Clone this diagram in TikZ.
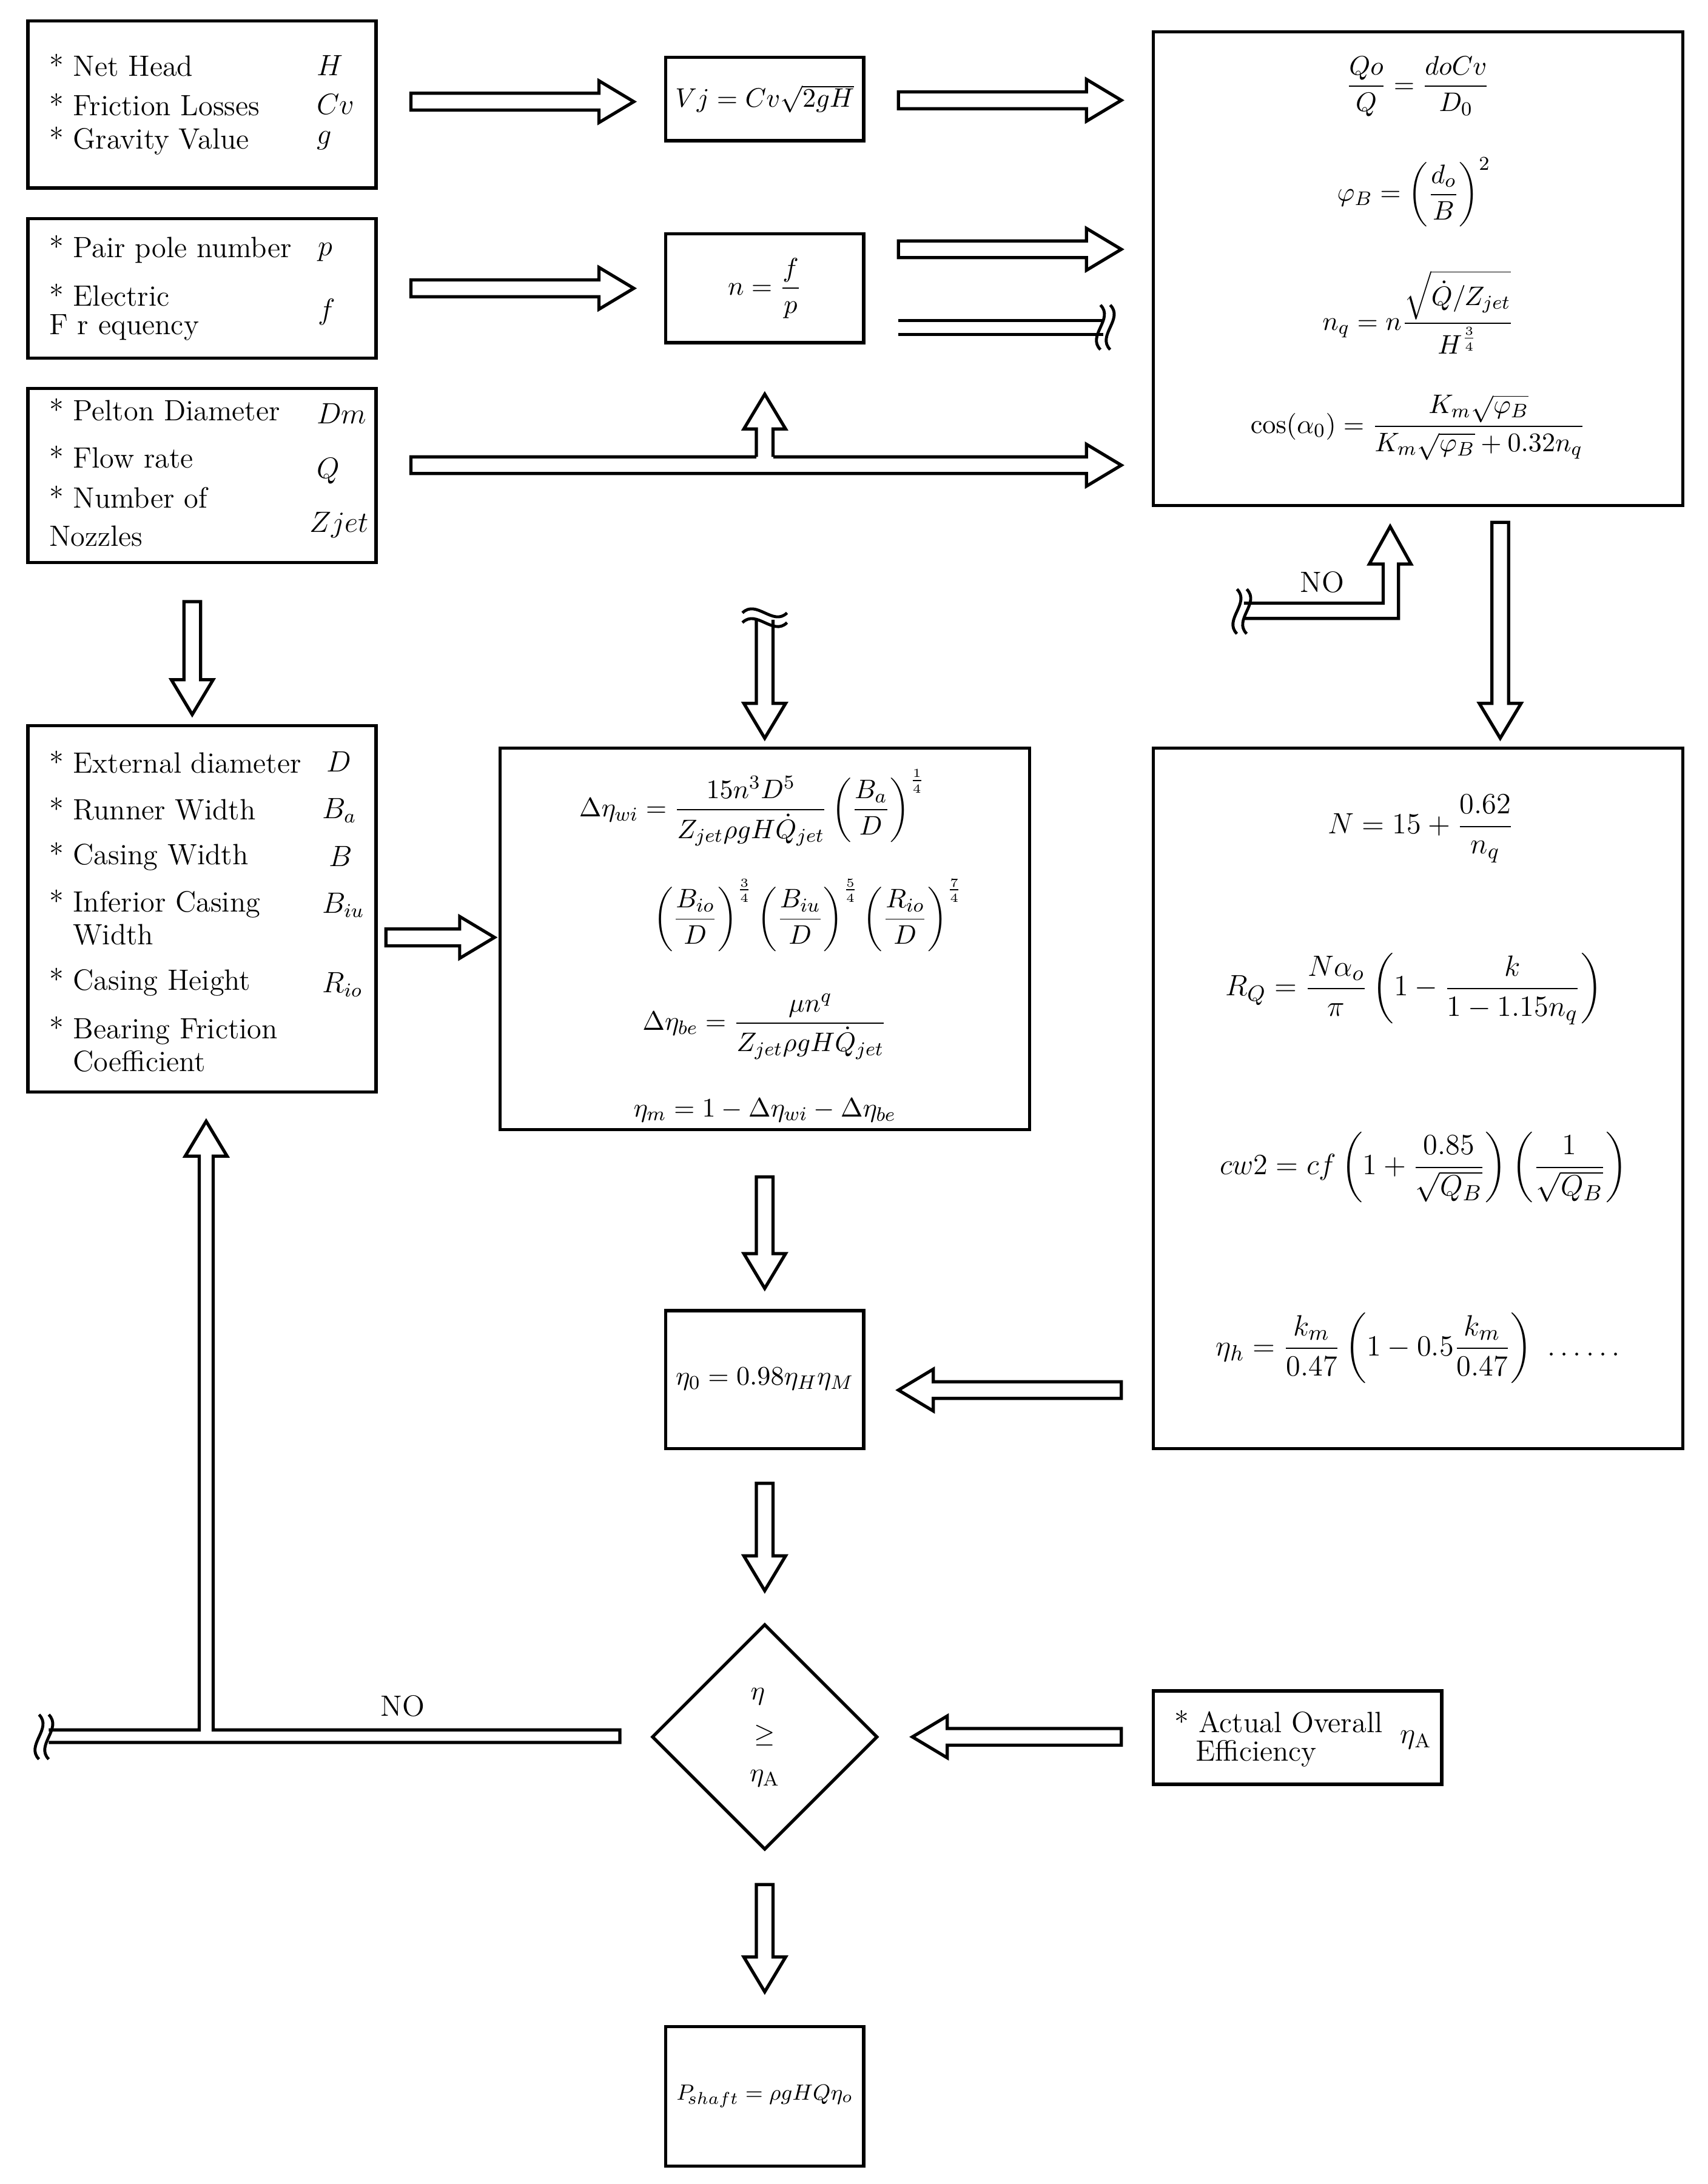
\documentclass[tikz,border=0pt]{standalone}
\usepackage{amsmath}
\usetikzlibrary{shapes.geometric}
\newcommand\rarr[3]{\draw[blk] (#1,#3-6) -- (#2-25,#3-6) -- (#2-25,#3-15) -- (#2,#3) -- (#2-25,#3+15) -- (#2-25,#3+6) -- (#1,#3+6) -- cycle;}
\newcommand\larr[3]{\draw[blk] (#1,#3-6) -- (#2+25,#3-6) -- (#2+25,#3-15) -- (#2,#3) -- (#2+25,#3+15) -- (#2+25,#3+6) -- (#1,#3+6) -- cycle;}
\newcommand\darr[3]{\draw[blk] (#1-6,#2) -- (#1-6,#3-25) -- (#1-15,#3-25) -- (#1,#3) -- (#1+15,#3-25) -- (#1+6,#3-25) -- (#1+6,#2) -- cycle;}
\newcommand\wavev[2]{\draw[line width=1.2pt] (#1,#2-16) .. controls (#1+10,#2-6) and (#1-10,#2+6) .. (#1,#2+16);
 \draw[line width=1.2pt] (#1+7,#2-16) .. controls (#1+17,#2-6) and (#1-3,#2+6) .. (#1+7,#2+16);}
\newcommand\waveh[2]{\draw[line width=1.2pt] (#1-16,#2) .. controls (#1-6,#2-10) and (#1+6,#2+10) .. (#1+16,#2);
 \draw[line width=1.2pt] (#1-16,#2-7) .. controls (#1-6,#2-17) and (#1+6,#2+3) .. (#1+16,#2-7);}
\begin{document}
\begin{tikzpicture}[x=0.02cm,y=-0.02cm,
 box/.style={draw,line width=1.3pt},
 blk/.style={draw,line width=1.3pt,fill=white,line join=miter},
 t/.style={anchor=west,inner sep=0,font=\fontsize{12}{14}\selectfont},
 m/.style={inner sep=0,font=\fontsize{11}{13}\selectfont},
 every node/.style={inner sep=0}]
\useasboundingbox[fill=white] (0,0) rectangle (1226,1568);
% boxes
\draw[box] (20,15) rectangle (270,135);
\draw[box] (20,157) rectangle (270,257);
\draw[box] (20,279) rectangle (270,404);
\draw[box] (20,521) rectangle (270,784);
\draw[box] (478,41) rectangle (620,101);
\draw[box] (478,168) rectangle (620,246);
\draw[box] (828,23) rectangle (1208,363);
\draw[box] (359,537) rectangle (739,811);
\draw[box] (828,537) rectangle (1208,1040);
\draw[box] (478,941) rectangle (620,1040);
\draw[box] (828,1214) rectangle (1035,1281);
\draw[box] (478,1455) rectangle (620,1555);
\node[diamond,draw,line width=1.3pt,minimum width=162*0.02cm,minimum height=162*0.02cm] (dia) at (549,1247) {};
% box A
\node[t] (a1) at (35,47) {* Net Head}; \node[t] (a1v) at (227,47) {$H$};
\node[t] (a2) at (35,75) {* Friction Losses}; \node[t] (a2v) at (227,75) {$Cv$};
\node[t] (a3) at (35,101) {* Gravity Value}; \node[t] (a3v) at (227,101) {$g$};
% box B
\node[t] (b1) at (35,179) {* Pair pole number}; \node[t] (b1v) at (228,181) {$p$};
\node[t] (b2) at (35,212) {* Electric}; \node[t] (b3) at (35,235) {F r equency}; \node[t] (b2v) at (228,224) {$f$};
% box C
\node[t] (c1) at (35,294) {* Pelton Diameter}; \node[t] (c1v) at (227,297) {$Dm$};
\node[t] (c2) at (35,328) {* Flow rate}; \node[t] (c2v) at (227,338) {$Q$};
\node[t] (c3) at (35,357) {* Number of}; \node[t] (c4) at (35,385) {Nozzles}; \node[t] (c3v) at (222,377) {$Zjet$};
% box D
\node[t] (d1) at (35,547) {* External diameter}; \node[t] (d1v) at (234,547) {$D$};
\node[t] (d2) at (35,581) {* Runner Width}; \node[t] (d2v) at (231,582) {$B_a$};
\node[t] (d3) at (35,615) {* Casing Width}; \node[t] (d3v) at (236,615) {$B$};
\node[t] (d4) at (35,649) {* Inferior Casing}; \node[t] (d4b) at (52,671) {Width}; \node[t] (d4v) at (231,650) {$B_{iu}$};
\node[t] (d5) at (35,705) {* Casing Height}; \node[t] (d5v) at (231,707) {$R_{io}$};
\node[t] (d6) at (35,740) {* Bearing Friction}; \node[t] (d6b) at (52,762) {Coefficient};
% formulas
\node[m] (vj) at (549,71) {$Vj = Cv\sqrt{2gH}$};
\node[m] (nf) at (549,207) {$n = \dfrac{f}{p}$};
\node[m] (r1) at (1018,62) {$\dfrac{Qo}{Q} = \dfrac{doCv}{D_0}$};
\node[m] (r2) at (1015,138) {$\varphi_B = \left(\dfrac{d_o}{B}\right)^2$};
\node[m] (r3) at (1018,224) {$n_q = n\dfrac{\sqrt{\dot Q/Z_{jet}}}{H^{\frac34}}$};
\node[m] (r4) at (1018,307) {$\cos(\alpha_0) = \dfrac{K_m\sqrt{\varphi_B}}{K_m\sqrt{\varphi_B}+0.32n_q}$};
\node[m] (m1) at (540,580) {$\Delta\eta_{wi} = \dfrac{15n^3D^5}{Z_{jet}\rho gH\dot Q_{jet}}\left(\dfrac{B_a}{D}\right)^{\frac14}$};
\node[m] (m2) at (580,657) {$\left(\dfrac{B_{io}}{D}\right)^{\frac34}\left(\dfrac{B_{iu}}{D}\right)^{\frac54}\left(\dfrac{R_{io}}{D}\right)^{\frac74}$};
\node[m] (m3) at (549,737) {$\Delta\eta_{be} = \dfrac{\mu n^q}{Z_{jet}\rho gH\dot Q_{jet}}$};
\node[m] (m4) at (549,797) {$\eta_m = 1-\Delta\eta_{wi}-\Delta\eta_{be}$};
\node[m,font=\fontsize{13}{15}\selectfont] (h1) at (1020,595) {$N = 15 + \dfrac{0.62}{n_q}$};
\node[m,font=\fontsize{13}{15}\selectfont] (h2) at (1015,710) {$R_Q = \dfrac{N\alpha_o}{\pi}\left(1-\dfrac{k}{1-1.15n_q}\right)$};
\node[m,font=\fontsize{13}{15}\selectfont] (h3) at (1022,838) {$cw2 = cf\left(1+\dfrac{0.85}{\sqrt{Q_B}}\right)\left(\dfrac{1}{\sqrt{Q_B}}\right)$};
\node[m,font=\fontsize{13}{15}\selectfont] (h4) at (1018,968) {$\eta_h = \dfrac{k_m}{0.47}\left(1-0.5\dfrac{k_m}{0.47}\right)\ \ldots\ldots$};
\node[m] (e0) at (549,990) {$\eta_0 = 0.98\eta_H\eta_M$};
\node[m,font=\fontsize{9.5}{11}\selectfont] (ps) at (549,1505) {$P_{\!shaft} = \rho gHQ\eta_o$};
\node[m] (dt1) at (544,1218) {$\eta$};
\node[m] (dt2) at (549,1246) {$\geq$};
\node[m] (dt3) at (549,1277) {$\eta_{\mathrm{A}}$};
\node[t] (ac1) at (843,1236) {* Actual Overall};
\node[t] (ac2) at (858,1259) {Efficiency};
\node[t] (acv) at (1005,1249) {$\eta_{\mathrm{A}}$};
\node[t] (no1) at (933,418) {NO};
\node[t] (no2) at (273,1225) {NO};
% arrows
\rarr{295}{455}{73}
\rarr{645}{805}{72}
\rarr{295}{455}{207}
\rarr{645}{805}{179}
\rarr{295}{805}{334}
\fill[white] (543,330) rectangle (555,300);
\draw[line width=1.3pt,line join=miter] (543,328) -- (543,308) -- (534,308) -- (549,283) -- (564,308) -- (555,308) -- (555,328);
\draw[line width=1.3pt] (645,230) -- (792,230) (645,240) -- (792,240);
\wavev{790}{235}
\darr{1077}{375}{530}
\draw[blk] (549-6,445) -- (549-6,505) -- (534,505) -- (549,530) -- (564,505) -- (555,505) -- (555,445);
\waveh{549}{447}
\darr{138}{432}{513}
\rarr{277}{355}{673}
\darr{549}{845}{925}
\larr{805}{645}{998}
\darr{549}{1065}{1142}
\larr{805}{655}{1247}
\darr{549}{1353}{1430}
\draw[blk] (893,433) -- (993,433) -- (993,405) -- (983,405) -- (998,378) -- (1013,405) -- (1004,405) -- (1004,444) -- (893,444);
\wavev{888}{439}
\draw[blk] (35,1242) -- (143,1242) -- (143,830) -- (133,830) -- (148,805) -- (163,830) -- (153,830) -- (153,1242) -- (445,1242) -- (445,1251) -- (35,1251);
\wavev{28}{1247}
\end{tikzpicture}
\end{document}
